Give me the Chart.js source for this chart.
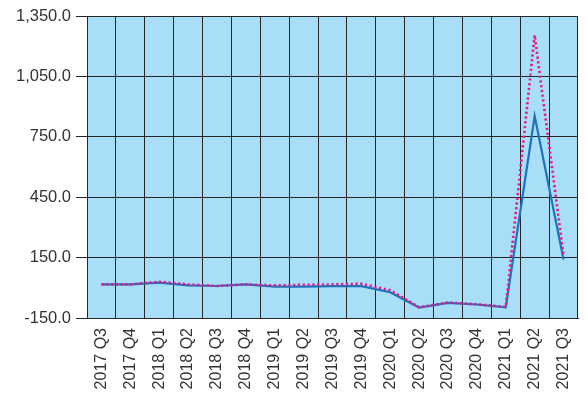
<!DOCTYPE html>
<html>
<head>
<meta charset="utf-8">
<script src="https://cdn.jsdelivr.net/npm/chart.js@4.4.0/dist/chart.umd.min.js"></script>
<style>
  html, body { margin: 0; padding: 0; background: #fff; }
  #wrap { width: 587px; height: 394px; }
</style>
</head>
<body>
<div id="wrap"><canvas id="chart" width="587" height="394"></canvas></div>
<script>
const quarters = [
    "2017 Q3", "2017 Q4",
    "2018 Q1", "2018 Q2", "2018 Q3", "2018 Q4",
    "2019 Q1", "2019 Q2", "2019 Q3", "2019 Q4",
    "2020 Q1", "2020 Q2", "2020 Q3", "2020 Q4",
    "2021 Q1", "2021 Q2", "2021 Q3"
]
const solidSeries = [17, 17, 26, 12, 9, 17, 6, 6, 8, 8, -22, -98, -75, -83, -97, 853, 140]
const dottedSeries = [17, 17, 30, 17, 9, 17, 12, 15, 17, 20, -12, -97, -73, -82, -95, 1255, 160]
const yMin = -150
const yMax = 1350
const yStep = 300

// light blue fill behind the plot area
const plotBackground = {
    id: "plotBackground",
    beforeDraw(chart){
        const {ctx, chartArea} = chart
        ctx.save()
        ctx.fillStyle = "#a9def8"
        ctx.fillRect(chartArea.left, chartArea.top, chartArea.right - chartArea.left, chartArea.bottom - chartArea.top)
        ctx.restore()
    }
}

const gridColor = "#262626"

new Chart(document.getElementById("chart"), {
    type: "line",
    data: {
        labels: quarters,
        datasets: [
            {
                data: dottedSeries,
                borderColor: "#e5188b",
                borderWidth: 2.6,
                borderDash: [2.2, 2.6],
                pointRadius: 0,
                tension: 0
            },
            {
                data: solidSeries,
                borderColor: "#1b74bb",
                borderWidth: 2.2,
                pointRadius: 0,
                tension: 0
            }
        ]
    },
    options: {
        responsive: false,
        animation: false,
        layout: {padding: {top: 16, right: 9, left: 0, bottom: 0}},
        plugins: {
            legend: {display: false},
            tooltip: {enabled: false}
        },
        scales: {
            x: {
                offset: true,
                grid: {
                    offset: true,
                    color: gridColor,
                    lineWidth: 1,
                    drawTicks: false
                },
                border: {color: gridColor, width: 1},
                ticks: {
                    minRotation: 90,
                    maxRotation: 90,
                    autoSkip: false,
                    padding: 10,
                    color: "#333",
                    font: {family: "Liberation Sans", size: 16}
                },
                afterFit(scale){
                    scale.height = 76
                    // labels sit inside the category slots, no extra room needed at the ends
                    scale.paddingLeft = 0
                    scale.paddingRight = 0
                }
            },
            y: {
                min: yMin,
                max: yMax,
                grid: {
                    color: gridColor,
                    lineWidth: 1,
                    tickLength: 11
                },
                border: {color: gridColor, width: 1},
                ticks: {
                    stepSize: yStep,
                    padding: 5,
                    color: "#333",
                    font: {family: "Liberation Sans", size: 16.5},
                    callback: v => v.toLocaleString("en-US", {minimumFractionDigits: 1, maximumFractionDigits: 1})
                },
                afterFit(scale){
                    scale.width = 87
                }
            }
        }
    },
    plugins: [plotBackground]
})
</script>
</body>
</html>
